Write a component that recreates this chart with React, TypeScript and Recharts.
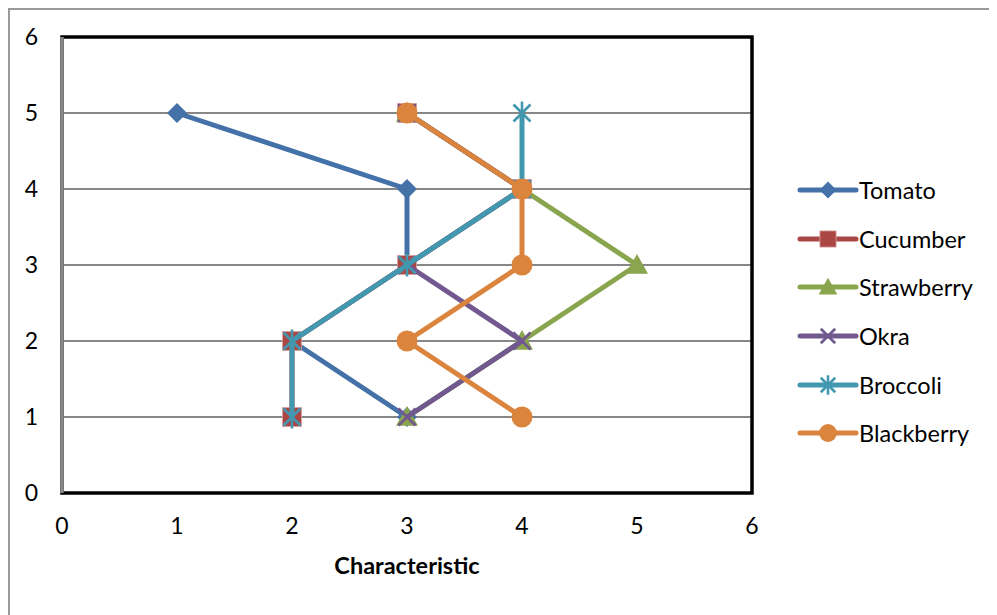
import React from 'react'
import {
  ScatterChart, Scatter, XAxis, YAxis, CartesianGrid,
  ReferenceArea, ReferenceLine,
} from 'recharts'

// every series is read top to bottom: one x value per level 5..1
const levels = [5, 4, 3, 2, 1]
const tomatoX = [1, 3, 3, 2, 3]
const cucumberX = [3, 4, 3, 2, 2]
const strawberryX = [3, 4, 5, 4, 3]
const okraX = [3, 4, 3, 4, 3]
const broccoliX = [4, 4, 3, 2, 2]
const blackberryX = [3, 4, 4, 3, 4]
const axisTicks = [0, 1, 2, 3, 4, 5, 6]

type MarkerKind = 'diamond' | 'square' | 'triangle' | 'x' | 'star' | 'circle'

const series: { name: string; xs: number[]; color: string; marker: MarkerKind }[] = [
  { name: 'Tomato', xs: tomatoX, color: '#4472A8', marker: 'diamond' },
  { name: 'Cucumber', xs: cucumberX, color: '#AA4643', marker: 'square' },
  { name: 'Strawberry', xs: strawberryX, color: '#89A54E', marker: 'triangle' },
  { name: 'Okra', xs: okraX, color: '#71588F', marker: 'x' },
  { name: 'Broccoli', xs: broccoliX, color: '#4198AF', marker: 'star' },
  { name: 'Blackberry', xs: blackberryX, color: '#DB843D', marker: 'circle' },
]

const font = 'Lato, "Open Sans", sans-serif'

function Marker({ kind, cx, cy, color, s = 1 }: { kind: MarkerKind; cx: number; cy: number; color: string; s?: number }) {
  if (cx == null || cy == null) return null
  switch (kind) {
    case 'diamond': {
      const r = 10 * s
      return <polygon points={`${cx},${cy - r} ${cx + r},${cy} ${cx},${cy + r} ${cx - r},${cy}`} fill={color} />
    }
    case 'square': {
      const r = 9.5 * s
      return <rect x={cx - r} y={cy - r} width={2 * r} height={2 * r} fill={color} stroke="#d9a3a2" strokeWidth={0.8} />
    }
    case 'triangle': {
      const r = 11 * s
      return <polygon points={`${cx},${cy - r} ${cx + r},${cy + r * 0.8} ${cx - r},${cy + r * 0.8}`} fill={color} />
    }
    case 'x': {
      const r = 8.5 * s
      return (
        <g stroke={color} strokeWidth={2.6}>
          <line x1={cx - r} y1={cy - r} x2={cx + r} y2={cy + r} />
          <line x1={cx - r} y1={cy + r} x2={cx + r} y2={cy - r} />
        </g>
      )
    }
    case 'star': {
      const r = 8.5 * s
      return (
        <g stroke={color} strokeWidth={2.6}>
          <line x1={cx - r} y1={cy - r} x2={cx + r} y2={cy + r} />
          <line x1={cx - r} y1={cy + r} x2={cx + r} y2={cy - r} />
          <line x1={cx} y1={cy - r * 1.35} x2={cx} y2={cy + r * 1.35} />
        </g>
      )
    }
    default:
      return <circle cx={cx} cy={cy} r={10.5 * s} fill={color} />
  }
}

function LegendBox() {
  return (
    <div style={{ position: 'absolute', left: 786, top: 156, fontFamily: font, fontSize: 23.5, color: '#000' }}>
      {series.map((s) => (
        <div key={s.name} style={{ display: 'flex', alignItems: 'center', height: 48.6 }}>
          <svg width={63} height={24} style={{ display: 'block' }}>
            <line x1={4} y1={12} x2={60} y2={12} stroke={s.color} strokeWidth={5} strokeLinecap="round" />
            <Marker kind={s.marker} cx={32} cy={12} color={s.color} s={0.85} />
          </svg>
          <span>{s.name}</span>
        </div>
      ))}
    </div>
  )
}

export default function App() {
  return (
    <div style={{
      position: 'relative', width: 987, height: 605,
      borderLeft: '2px solid #9a9a9a', borderTop: '2px solid #9a9a9a', background: '#fff',
    }}>
      <ScatterChart width={987} height={605} margin={{ top: 27, right: 245, bottom: 62, left: 12 }}>
        <CartesianGrid vertical={false} stroke="#878787" strokeWidth={2} />
        <XAxis
          type="number" dataKey="x" domain={[0, 6]} ticks={axisTicks} interval={0}
          height={60} tickSize={0} tickMargin={25} axisLine={false}
          tick={{ fill: '#000', fontSize: 23, fontFamily: font }}
          label={{ value: 'Characteristic', position: 'bottom', offset: 4, fill: '#000', fontSize: 23.5, fontWeight: 700, fontFamily: font }}
        />
        <YAxis
          type="number" dataKey="y" domain={[0, 6]} ticks={axisTicks} interval={0}
          width={40} tickSize={0} tickMargin={24} axisLine={false}
          tick={{ fill: '#000', fontSize: 23, fontFamily: font }}
        />
        <ReferenceArea x1={0} x2={6} y1={0} y2={6} fill="none" stroke="#000" strokeWidth={3.5} />
        <ReferenceLine x={0} stroke="#8a8a8a" strokeWidth={3.5} />
        {series.map((s) => (
          <Scatter
            key={s.name}
            name={s.name}
            data={s.xs.map((x, i) => ({ x, y: levels[i] }))}
            line={{ stroke: s.color, strokeWidth: 5, strokeLinejoin: 'round' }}
            lineType="joint"
            fill={s.color}
            isAnimationActive={false}
            shape={(p: any) => <Marker kind={s.marker} cx={p.cx} cy={p.cy} color={s.color} />}
          />
        ))}
      </ScatterChart>
      <LegendBox />
    </div>
  )
}
